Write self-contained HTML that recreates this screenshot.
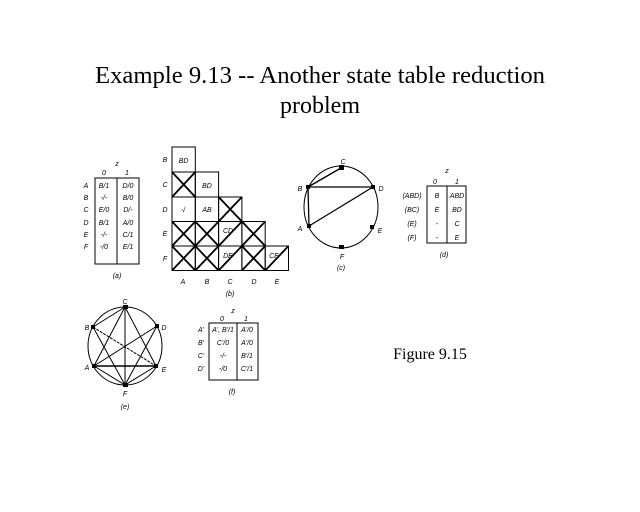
<!DOCTYPE html>
<html><head><style>
html,body{margin:0;padding:0;background:#fff;}
svg{display:block;}
.t{font-family:"Liberation Serif",serif;}
.s{font-family:"Liberation Sans",sans-serif;font-size:7px;font-style:italic;}
</style></head><body>
<svg width="640" height="512" viewBox="0 0 640 512" xmlns="http://www.w3.org/2000/svg">
<rect width="640" height="512" fill="#fff"/>
<text class="t" x="320" y="83" font-size="24" text-anchor="middle" textLength="450" lengthAdjust="spacingAndGlyphs">Example 9.13 -- Another state table reduction</text>
<text class="t" x="320" y="113" font-size="24" text-anchor="middle">problem</text>
<text class="t" x="430" y="359" font-size="16" text-anchor="middle">Figure 9.15</text>

<!-- (a) -->
<g class="s" text-anchor="middle">
<text x="117" y="166">z</text><text x="104" y="175">0</text><text x="127" y="175">1</text>
<rect x="95" y="178" width="44" height="86" fill="none" stroke="#000"/>
<line x1="117" y1="178" x2="117" y2="264" stroke="#000"/>
<text x="86" y="188">A</text><text x="104" y="188">B/1</text><text x="128" y="188">D/0</text>
<text x="86" y="200">B</text><text x="104" y="200">-/-</text><text x="128" y="200">B/0</text>
<text x="86" y="212">C</text><text x="104" y="212">E/0</text><text x="128" y="212">D/-</text>
<text x="86" y="225">D</text><text x="104" y="225">B/1</text><text x="128" y="225">A/0</text>
<text x="86" y="237">E</text><text x="104" y="237">-/-</text><text x="128" y="237">C/1</text>
<text x="86" y="249">F</text><text x="104" y="249">-/0</text><text x="128" y="249">E/1</text>
<text x="117" y="278">(a)</text>
</g>

<!-- (b) implication chart -->
<g stroke="#000" fill="none" stroke-width="1">
<rect x="172" y="147" width="23.3" height="25"/>
<rect x="172" y="172" width="23.3" height="25"/><rect x="195.3" y="172" width="23.3" height="25"/>
<rect x="172" y="197" width="23.3" height="24.5"/><rect x="195.3" y="197" width="23.3" height="24.5"/><rect x="218.6" y="197" width="23.3" height="24.5"/>
<rect x="172" y="221.5" width="23.3" height="24.5"/><rect x="195.3" y="221.5" width="23.3" height="24.5"/><rect x="218.6" y="221.5" width="23.3" height="24.5"/><rect x="241.9" y="221.5" width="23.3" height="24.5"/>
<rect x="172" y="246" width="23.3" height="24.5"/><rect x="195.3" y="246" width="23.3" height="24.5"/><rect x="218.6" y="246" width="23.3" height="24.5"/><rect x="241.9" y="246" width="23.3" height="24.5"/><rect x="265.2" y="246" width="23.3" height="24.5"/>
</g>
<g stroke="#000" stroke-width="1.8">
<line x1="172" y1="172" x2="195.3" y2="197"/><line x1="195.3" y1="172" x2="172" y2="197"/>
<line x1="218.6" y1="197" x2="241.9" y2="221.5"/><line x1="241.9" y1="197" x2="218.6" y2="221.5"/>
<line x1="172" y1="221.5" x2="195.3" y2="246"/><line x1="195.3" y1="221.5" x2="172" y2="246"/>
<line x1="195.3" y1="221.5" x2="218.6" y2="246"/><line x1="218.6" y1="221.5" x2="195.3" y2="246"/>
<line x1="241.9" y1="221.5" x2="265.2" y2="246"/><line x1="265.2" y1="221.5" x2="241.9" y2="246"/>
<line x1="241.9" y1="221.5" x2="218.6" y2="246"/>
<line x1="172" y1="246" x2="195.3" y2="270.5"/><line x1="195.3" y1="246" x2="172" y2="270.5"/>
<line x1="195.3" y1="246" x2="218.6" y2="270.5"/><line x1="218.6" y1="246" x2="195.3" y2="270.5"/>
<line x1="241.9" y1="246" x2="265.2" y2="270.5"/><line x1="265.2" y1="246" x2="241.9" y2="270.5"/>
<line x1="241.9" y1="246" x2="218.6" y2="270.5"/>
<line x1="288.5" y1="246" x2="265.2" y2="270.5"/>
</g>
<g class="s" text-anchor="middle">
<text x="183.6" y="163">BD</text><text x="207" y="188">BD</text>
<text x="183.6" y="212">√</text><text x="207" y="212">AB</text>
<text x="228" y="233">CD</text><text x="228" y="258">DE</text><text x="274" y="258">CE</text>
<text x="165" y="162">B</text><text x="165" y="187">C</text><text x="165" y="212">D</text><text x="165" y="236">E</text><text x="165" y="261">F</text>
<text x="183" y="284">A</text><text x="207" y="284">B</text><text x="230" y="284">C</text><text x="254" y="284">D</text><text x="277" y="284">E</text>
<text x="230" y="296">(b)</text>
</g>

<!-- (c) -->
<ellipse cx="341" cy="207" rx="37" ry="41" fill="none" stroke="#000"/>
<g stroke="#000" stroke-width="1.3">
<line x1="308" y1="187" x2="341" y2="168"/><line x1="308" y1="187" x2="373" y2="187"/>
<line x1="308" y1="187" x2="309" y2="226"/><line x1="309" y1="226" x2="373" y2="187"/>
</g>
<g fill="#000"><rect x="339" y="165" width="5" height="5"/><rect x="306" y="185" width="4" height="4"/><rect x="371" y="185" width="4" height="4"/><rect x="307" y="224" width="4" height="4"/><rect x="370" y="225" width="4" height="4"/><rect x="339" y="245" width="5" height="4"/></g>
<g class="s" text-anchor="middle">
<text x="343" y="164">C</text><text x="300" y="191">B</text><text x="381" y="191">D</text><text x="300" y="231">A</text><text x="380" y="233">E</text><text x="342" y="259">F</text><text x="341" y="270">(c)</text>
</g>

<!-- (d) -->
<g class="s" text-anchor="middle">
<text x="447" y="173">z</text><text x="435" y="184">0</text><text x="457" y="184">1</text>
<rect x="427" y="186" width="39" height="57" fill="none" stroke="#000" style="stroke-width:1"/>
<line x1="447" y1="186" x2="447" y2="243" stroke="#000"/>
<text x="412" y="198">(ABD)</text><text x="437" y="198">B</text><text x="457" y="198">ABD</text>
<text x="412" y="212">(BC)</text><text x="437" y="212">E</text><text x="457" y="212">BD</text>
<text x="412" y="226">(E)</text><text x="437" y="226">-</text><text x="457" y="226">C</text>
<text x="412" y="240">(F)</text><text x="437" y="240">-</text><text x="457" y="240">E</text>
<text x="444" y="257">(d)</text>
</g>

<!-- (e) -->
<ellipse cx="125" cy="346" rx="37" ry="39" fill="none" stroke="#000"/>
<g stroke="#000" stroke-width="1">
<line x1="125" y1="307" x2="93" y2="327"/>
<line x1="125" y1="307" x2="94" y2="366"/><line x1="125" y1="307" x2="156" y2="366"/><line x1="125" y1="307" x2="125" y2="385"/>
<line x1="157" y1="326" x2="94" y2="366"/><line x1="157" y1="326" x2="125" y2="385"/>
<line x1="93" y1="327" x2="125" y2="385"/><line x1="93" y1="327" x2="156" y2="366" stroke-dasharray="3,1"/>
<line x1="94" y1="366" x2="156" y2="366" stroke-width="1.4"/><line x1="94" y1="366" x2="125" y2="385"/><line x1="156" y1="366" x2="125" y2="385"/>
</g>
<g fill="#000"><rect x="123" y="305" width="5" height="4"/><rect x="91" y="325" width="4" height="4"/><rect x="155" y="324" width="4" height="4"/><rect x="92" y="364" width="4" height="4"/><rect x="154" y="364" width="4" height="4"/><rect x="123" y="383" width="5" height="4"/></g>
<g class="s" text-anchor="middle">
<text x="125" y="304">C</text><text x="87" y="330">B</text><text x="164" y="330">D</text><text x="87" y="370">A</text><text x="164" y="372">E</text><text x="125" y="396">F</text><text x="125" y="409">(e)</text>
</g>

<!-- (f) -->
<g class="s" text-anchor="middle">
<text x="233" y="313">z</text><text x="222" y="321">0</text><text x="246" y="321">1</text>
<rect x="209" y="323" width="49" height="57" fill="none" stroke="#000"/>
<line x1="237" y1="323" x2="237" y2="380" stroke="#000"/>
<text x="201" y="332">A'</text><text x="223" y="332">A', B'/1</text><text x="247" y="332">A'/0</text>
<text x="201" y="345">B'</text><text x="223" y="345">C'/0</text><text x="247" y="345">A'/0</text>
<text x="201" y="358">C'</text><text x="223" y="358">-/-</text><text x="247" y="358">B'/1</text>
<text x="201" y="371">D'</text><text x="223" y="371">-/0</text><text x="247" y="371">C'/1</text>
<text x="232" y="394">(f)</text>
</g>
</svg>
</body></html>
